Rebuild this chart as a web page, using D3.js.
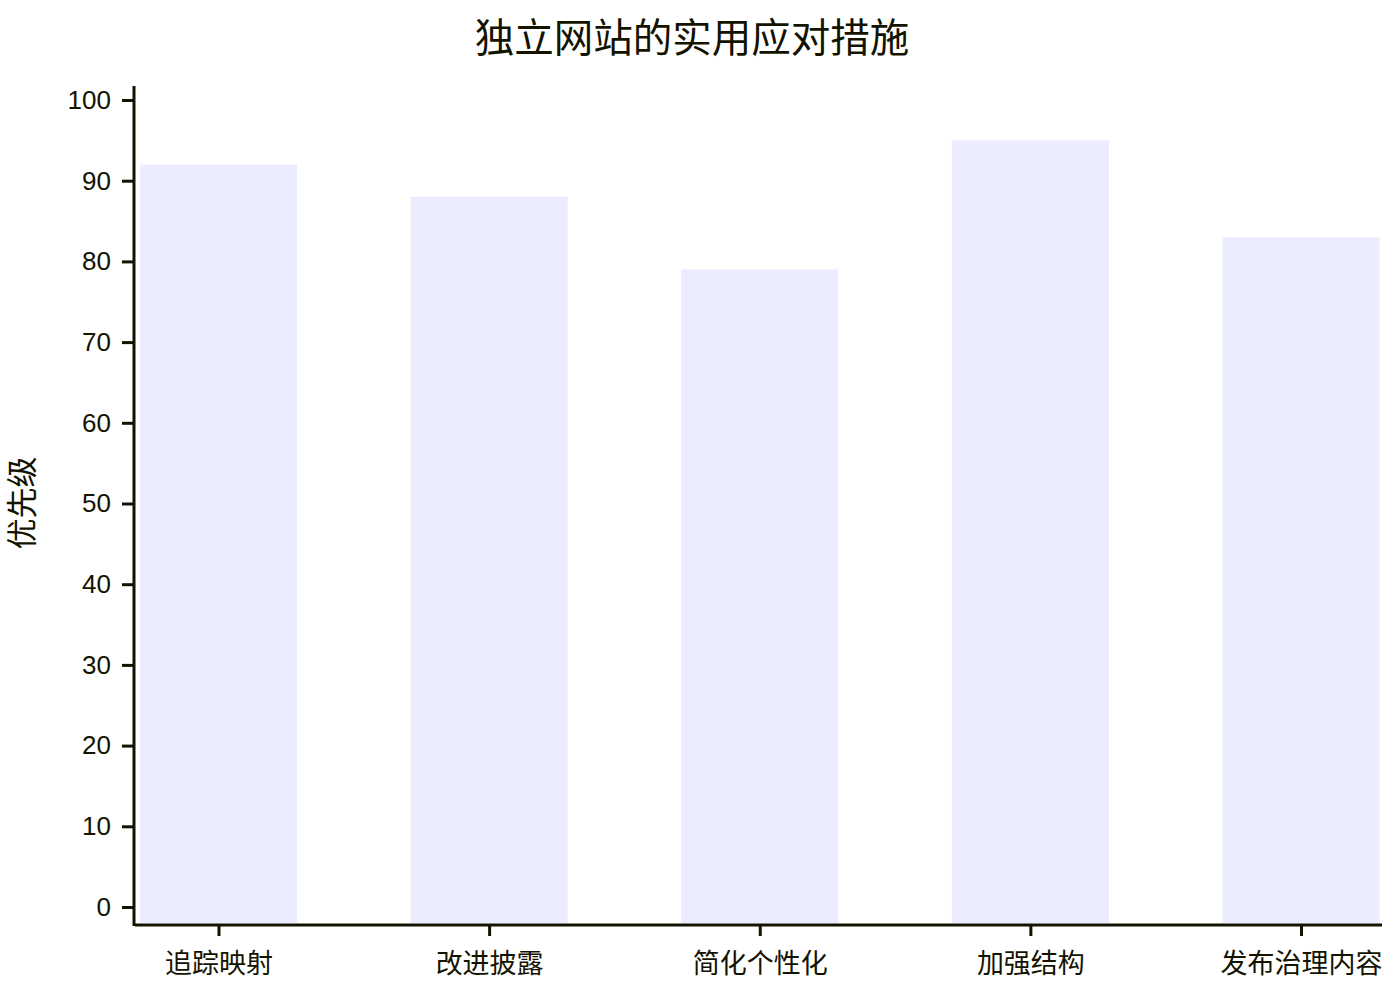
<!DOCTYPE html>
<html>
<head>
<meta charset="utf-8">
<script src="https://cdn.jsdelivr.net/npm/d3@7"></script>
<style>
  body { margin: 0; background: #fff; }
  text { font-family: "Liberation Sans", Arial, "Noto Sans CJK SC", sans-serif; fill: #131300; }
</style>
</head>
<body>
<svg width="1400" height="1000"></svg>
<script>
// chart data
var title = "独立网站的实用应对措施";
var yAxisTitle = "优先级";
var categories = ["追踪映射", "改进披露", "简化个性化", "加强结构", "发布治理内容"];
var values = [92, 88, 79, 95, 83];
var yTicks = [0, 10, 20, 30, 40, 50, 60, 70, 80, 90, 100];

var svg = d3.select("svg");
var ink = "#131300";

// plot area
var plot = {left: 135, right: 1382, top: 86, bottom: 923};

var x = d3.scalePoint()
  .domain(categories)
  .range([plot.left + 83.5, plot.right - 81]);

var y = d3.scaleLinear()
  .domain([0, 100])
  .range([907, 100]);

var barWidth = 157;

// bars go from value down to the bottom of the plot
svg.append("g").selectAll("rect")
  .data(values)
  .enter().append("rect")
  .attr("x", function(d, i) { return x(categories[i]) - barWidth / 2; })
  .attr("y", function(d) { return y(d); })
  .attr("width", barWidth)
  .attr("height", function(d) { return plot.bottom - y(d); })
  .attr("fill", "#ECECFF");

// title
svg.append("text")
  .attr("x", 692)
  .attr("y", 42)
  .attr("text-anchor", "middle")
  .attr("dominant-baseline", "middle")
  .style("font-size", "39.5px")
  .text(title);

// y axis title
svg.append("text")
  .attr("transform", "translate(25,503) rotate(-90)")
  .attr("text-anchor", "middle")
  .attr("dominant-baseline", "middle")
  .style("font-size", "31px")
  .text(yAxisTitle);

// y axis
var yAxis = d3.axisLeft(y)
  .tickValues(yTicks)
  .tickSize(11)
  .tickPadding(11);

var gy = svg.append("g")
  .attr("transform", "translate(" + (plot.left - 2) + ",0)")
  .call(yAxis);
gy.select(".domain").remove();
gy.selectAll(".tick line").attr("stroke", ink).attr("stroke-width", 3);
gy.selectAll(".tick text").style("font-size", "26px").attr("fill", ink);

svg.append("line")
  .attr("x1", plot.left - 1).attr("x2", plot.left - 1)
  .attr("y1", plot.top).attr("y2", plot.bottom + 3)
  .attr("stroke", ink).attr("stroke-width", 3);

// x axis
var xAxis = d3.axisBottom(x)
  .tickSize(11)
  .tickPadding(18);

var gx = svg.append("g")
  .attr("transform", "translate(0," + (plot.bottom + 2) + ")")
  .call(xAxis);
gx.select(".domain").remove();
gx.selectAll(".tick line").attr("stroke", ink).attr("stroke-width", 3);
gx.selectAll(".tick text").style("font-size", "27px").attr("fill", ink);

svg.append("line")
  .attr("x1", plot.left).attr("x2", plot.right)
  .attr("y1", plot.bottom + 2).attr("y2", plot.bottom + 2)
  .attr("stroke", ink).attr("stroke-width", 3);
</script>
</body>
</html>
